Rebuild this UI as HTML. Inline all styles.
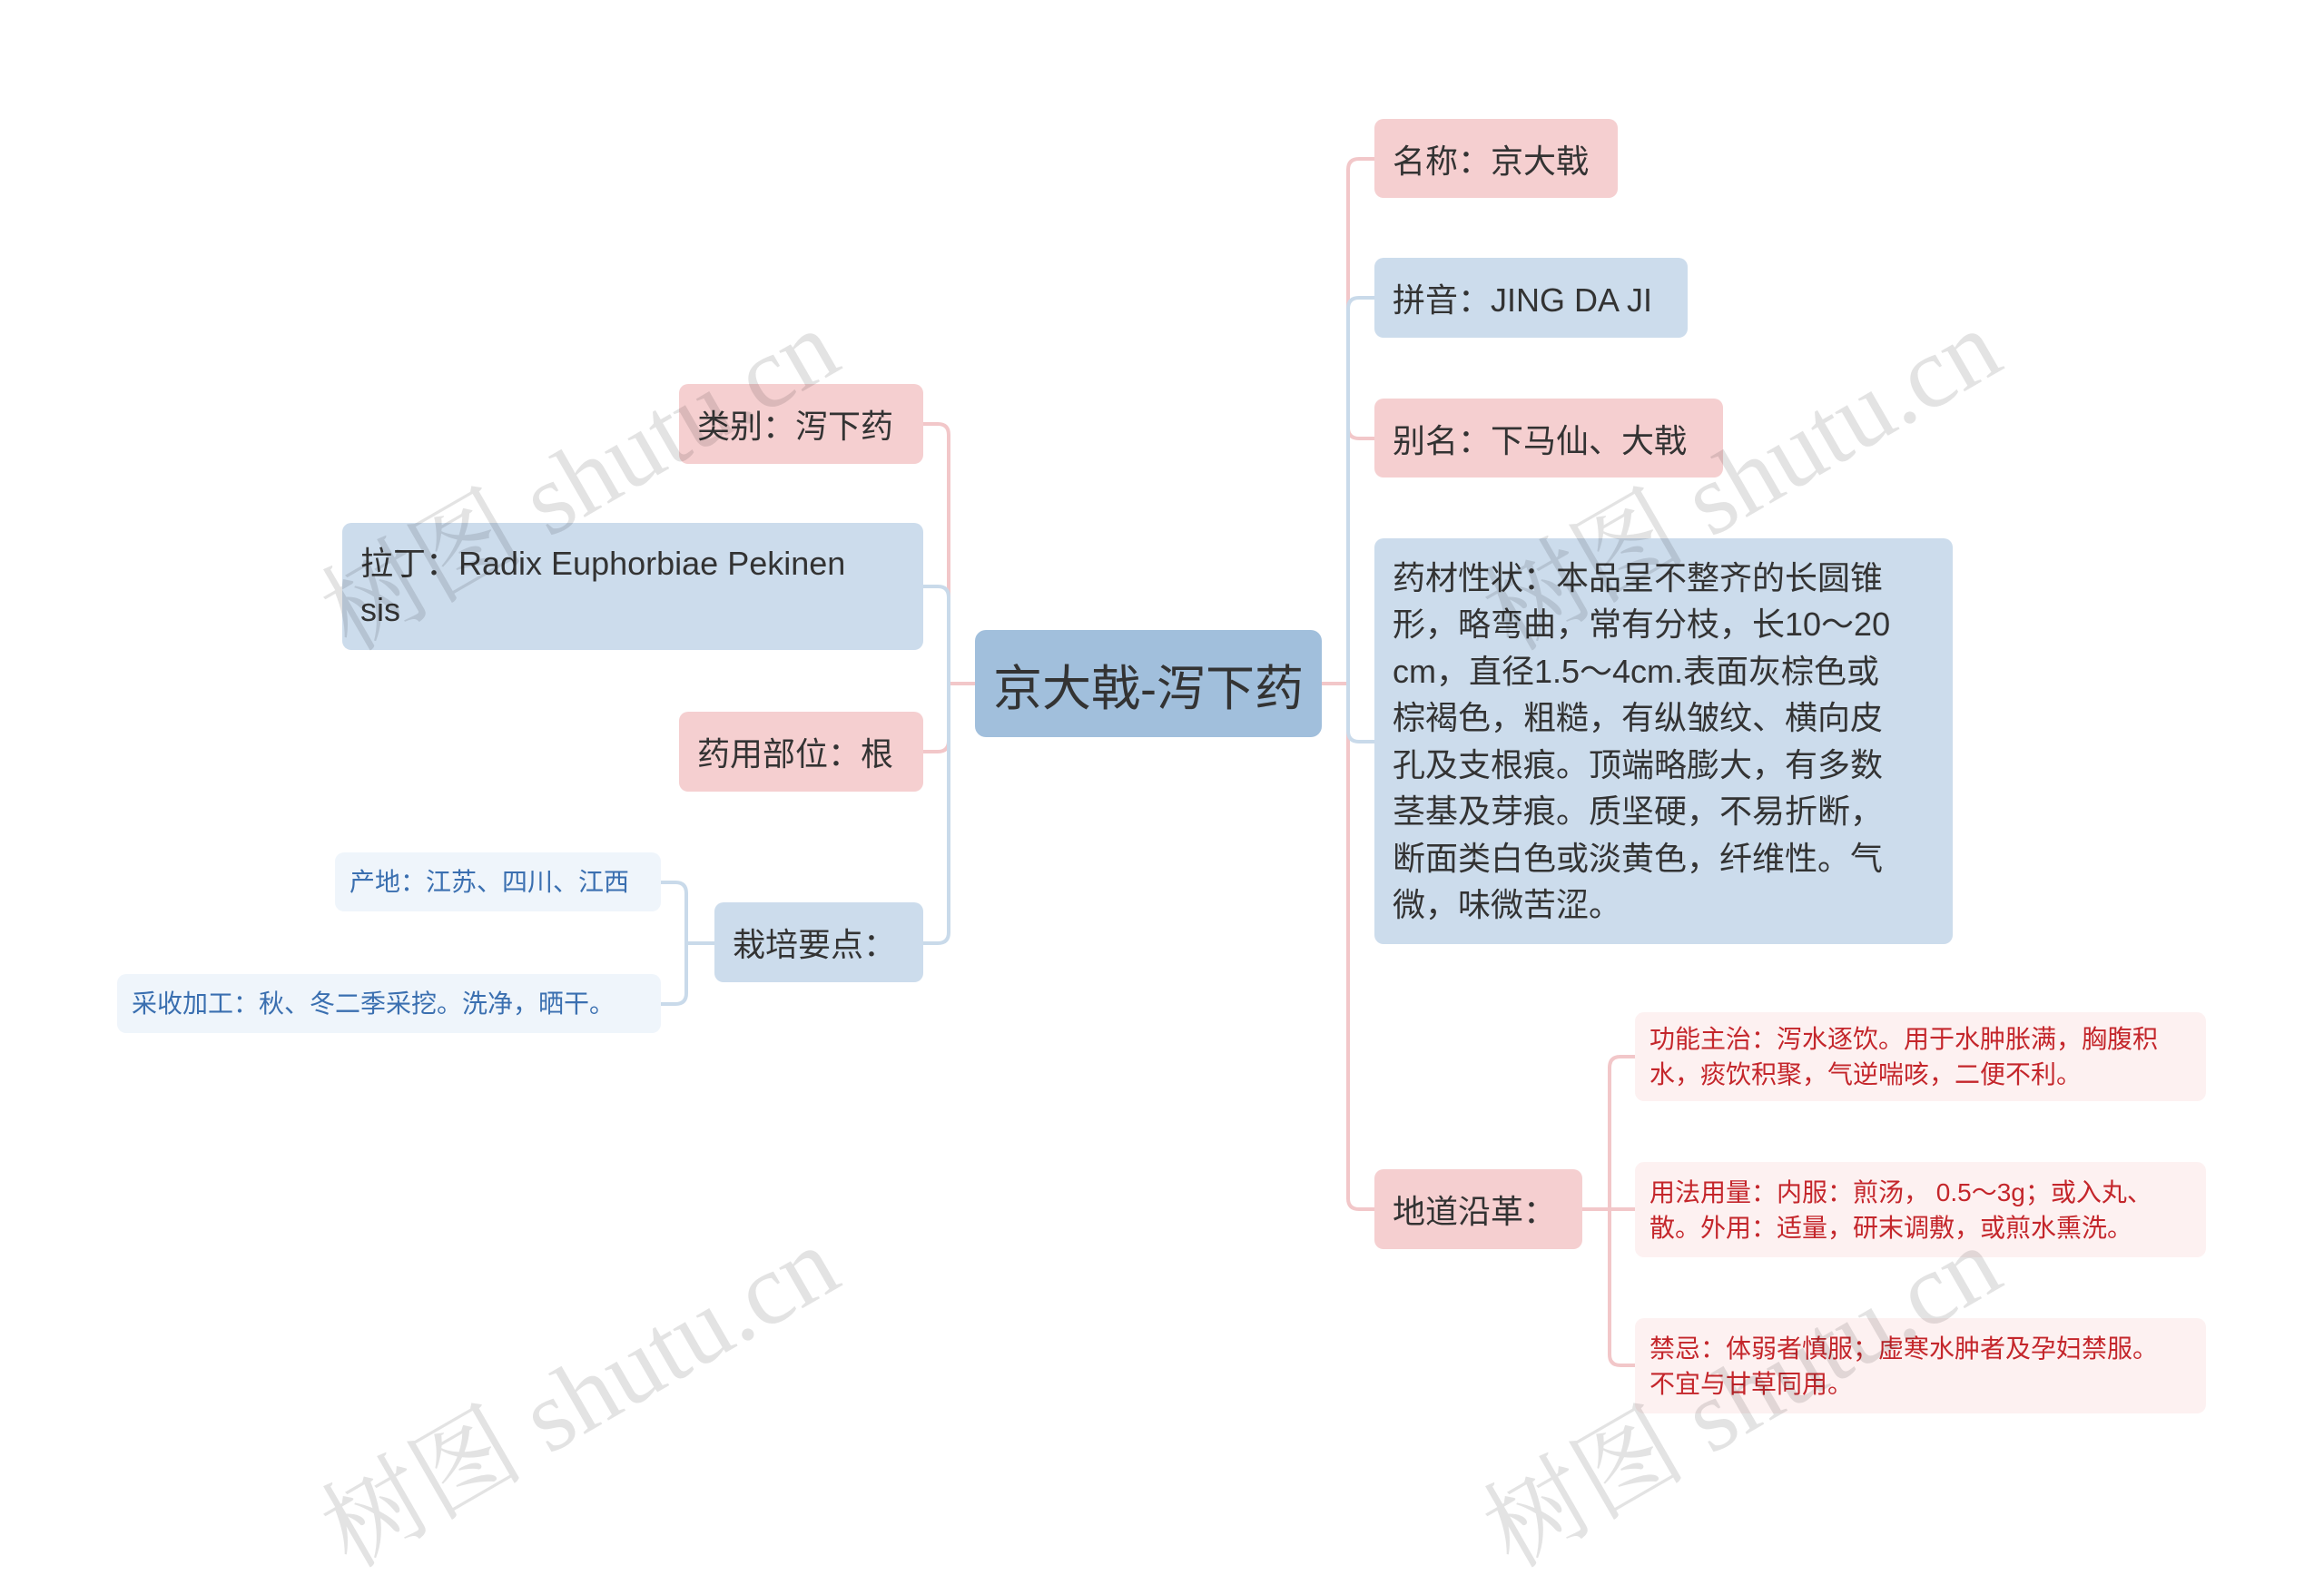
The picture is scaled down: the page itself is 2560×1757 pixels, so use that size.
<!DOCTYPE html>
<html><head><meta charset="utf-8"><style>
body{margin:0;width:2560px;height:1687px;background:#fff;position:relative;overflow:hidden;font-family:"Liberation Sans","Noto Sans CJK SC",sans-serif;}
.n{position:absolute;box-sizing:border-box;border-radius:10px;color:#333;display:flex;align-items:center;white-space:nowrap}
.p{background:#f5cfd0}
.b{background:#ccdcec}
.m{font-size:36px;padding:0 20px}
.s{font-size:28px;padding:0 16px;line-height:39px;white-space:normal}
.r{background:#fdf1f1;color:#c4262b}
.lb{background:#eff5fb;color:#3a6fb0}
.wm{position:absolute;font-family:"Liberation Serif","Noto Serif CJK SC",serif;font-size:112px;color:rgba(0,0,0,0.11);transform:rotate(-30deg);white-space:nowrap;transform-origin:center}
</style></head><body>
<svg width="2560" height="1687" style="position:absolute;left:0;top:0" fill="none" stroke-width="4">
<g stroke="#f2c7c9">
<path d="M1456 753 H1485 V187 Q1485 175 1497 175 H1514"/>
<path d="M1485 753 V471 Q1485 483 1497 483 H1514"/>
<path d="M1485 753 V1320 Q1485 1332 1497 1332 H1514"/>
<path d="M1074 753 H1045 V479 Q1045 467 1033 467 H1017"/>
<path d="M1045 753 V816 Q1045 828 1033 828 H1017"/>
<path d="M1743 1332 H1773 V1176 Q1773 1164 1785 1164 H1801"/>
<path d="M1773 1332 H1801"/>
<path d="M1773 1332 V1492 Q1773 1504 1785 1504 H1801"/>
</g>
<g stroke="#c9daea">
<path d="M1485 753 V340 Q1485 328 1497 328 H1514"/>
<path d="M1485 753 V805 Q1485 817 1497 817 H1514"/>
<path d="M1045 753 V658 Q1045 646 1033 646 H1017"/>
<path d="M1045 753 V1027 Q1045 1039 1033 1039 H1017"/>
<path d="M787 1039 H756 V984 Q756 972 744 972 H728"/>
<path d="M756 1039 V1094 Q756 1106 744 1106 H728"/>
</g>
</svg>

<div class="n" style="left:1074px;top:694px;width:382px;height:118px;background:#a1bfdc;font-size:54px;justify-content:center;border-radius:12px">京大戟-泻下药</div>

<div class="n p m" style="left:1514px;top:131px;width:268px;height:87px">名称：京大戟</div>
<div class="n b m" style="left:1514px;top:284px;width:345px;height:88px">拼音：JING DA JI</div>
<div class="n p m" style="left:1514px;top:439px;width:384px;height:87px">别名：下马仙、大戟</div>
<div class="n b m" style="left:1514px;top:593px;width:637px;height:447px;white-space:normal;line-height:51.5px;align-items:center">药材性状：本品呈不整齐的长圆锥<br>形，略弯曲，常有分枝，长10～20<br>cm，直径1.5～4cm.表面灰棕色或<br>棕褐色，粗糙，有纵皱纹、横向皮<br>孔及支根痕。顶端略膨大，有多数<br>茎基及芽痕。质坚硬，不易折断，<br>断面类白色或淡黄色，纤维性。气<br>微，味微苦涩。</div>
<div class="n p m" style="left:1514px;top:1288px;width:229px;height:88px">地道沿革：</div>

<div class="n r s" style="left:1801px;top:1115px;width:629px;height:98px">功能主治：泻水逐饮。用于水肿胀满，胸腹积<br>水，痰饮积聚，气逆喘咳，二便不利。</div>
<div class="n r s" style="left:1801px;top:1280px;width:629px;height:105px">用法用量：内服：煎汤， 0.5～3g；或入丸、<br>散。外用：适量，研末调敷，或煎水熏洗。</div>
<div class="n r s" style="left:1801px;top:1452px;width:629px;height:105px">禁忌：体弱者慎服；虚寒水肿者及孕妇禁服。<br>不宜与甘草同用。</div>

<div class="n p m" style="left:748px;top:423px;width:269px;height:88px">类别：泻下药</div>
<div class="n b m" style="left:377px;top:576px;width:640px;height:140px;white-space:normal;line-height:51px">拉丁：Radix Euphorbiae Pekinen<br>sis</div>
<div class="n p m" style="left:748px;top:784px;width:269px;height:88px">药用部位：根</div>
<div class="n b m" style="left:787px;top:994px;width:230px;height:88px">栽培要点：</div>
<div class="n lb s" style="left:369px;top:939px;width:359px;height:65px;white-space:nowrap">产地：江苏、四川、江西</div>
<div class="n lb s" style="left:129px;top:1073px;width:599px;height:65px;white-space:nowrap">采收加工：秋、冬二季采挖。洗净，晒干。</div>

<div class="wm" style="left:320px;top:440px">树图 shutu.cn</div>
<div class="wm" style="left:1600px;top:440px">树图 shutu.cn</div>
<div class="wm" style="left:320px;top:1450px">树图 shutu.cn</div>
<div class="wm" style="left:1600px;top:1450px">树图 shutu.cn</div>
</body></html>
